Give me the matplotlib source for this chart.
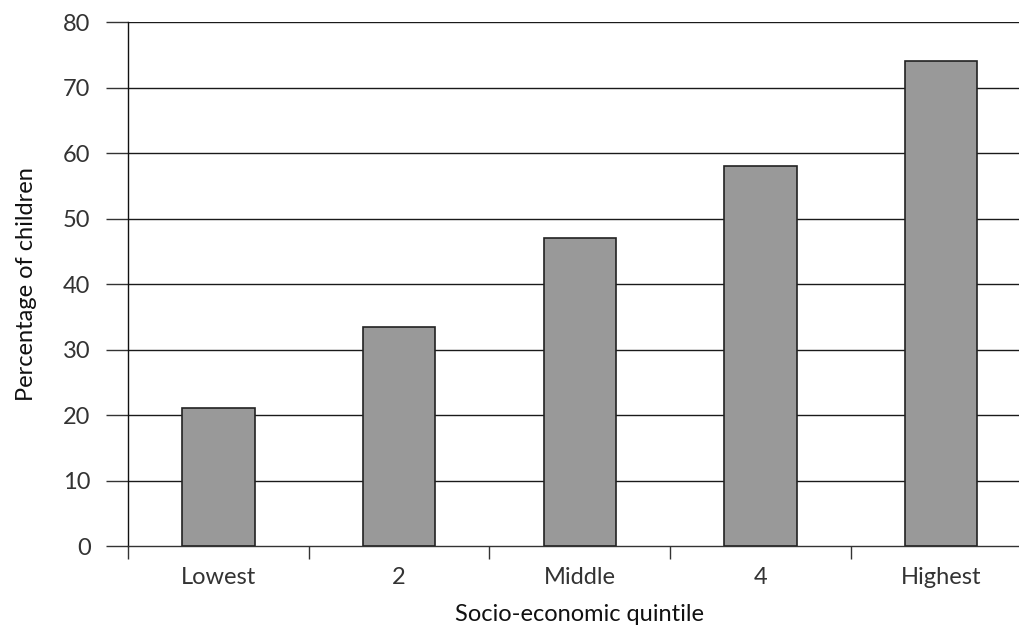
import numpy as np
import matplotlib.pyplot as plt

categories = ["Lowest", "2", "Middle", "4", "Highest"]
values = [21, 33.5, 47, 58, 74]
yticks = [0, 10, 20, 30, 40, 50, 60, 70, 80]

plt.rcParams['font.family'] = ['Lato', 'DejaVu Sans']

fig = plt.figure(figsize=(10.2, 6.31), dpi=100)
ax = fig.add_axes([0.1255, 0.1347, 0.8858, 0.8304])

x = np.arange(len(categories))
ax.bar(x, values, width=0.4, color="#999999", edgecolor="#222222", linewidth=1.2, zorder=3)

ax.set_xlim(-0.5, len(categories) - 0.5)
ax.set_ylim(0, 80)

# horizontal rules at every tick
for v in yticks[1:]:
    ax.axhline(v, color="#1a1a1a", linewidth=1.0, zorder=1)

ax.set_yticks(yticks)
ax.set_yticklabels([str(v) for v in yticks], fontsize=17, color="#333333")
ax.tick_params(axis="y", length=16, width=1.0, pad=11, color="#333333")

ax.set_xticks(x)
ax.set_xticklabels(categories, fontsize=17, color="#333333")
ax.tick_params(axis="x", which="major", length=0, pad=15)
ax.set_xticks(np.arange(len(categories) + 1) - 0.5, minor=True)
ax.tick_params(axis="x", which="minor", length=9, width=1.0, color="#333333")

for s in ["top", "right"]:
    ax.spines[s].set_visible(False)
ax.spines["left"].set_color("#111111")
ax.spines["bottom"].set_color("#333333")
ax.spines["left"].set_linewidth(1.0)
ax.spines["bottom"].set_linewidth(1.0)

ax.set_ylabel("Percentage of children", fontsize=17, color="#111111")
ax.yaxis.set_label_coords(-0.1007, 0.5)
ax.set_xlabel("Socio-economic quintile", fontsize=17, color="#111111")
ax.xaxis.set_label_coords(0.5, -0.11)

fig.savefig("out.png", dpi=100)
